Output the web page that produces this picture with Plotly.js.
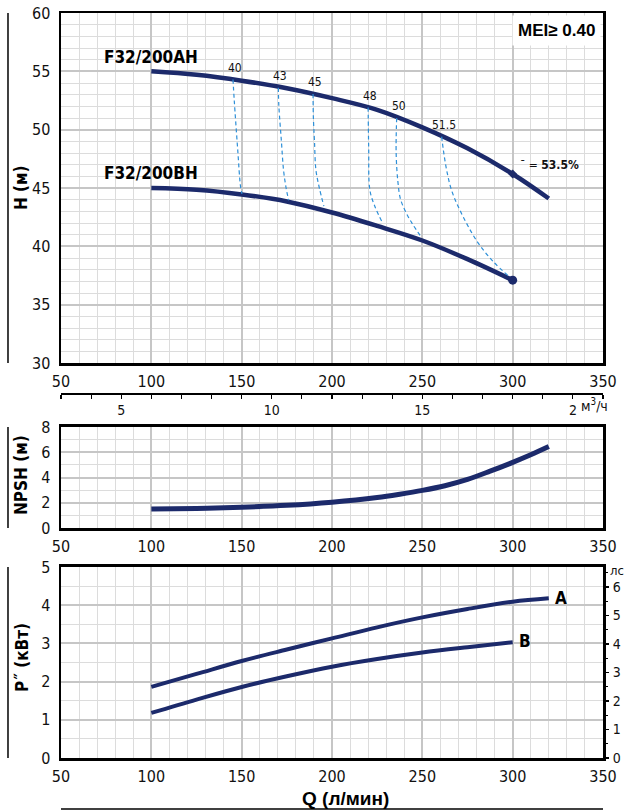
<!DOCTYPE html>
<html>
<head>
<meta charset="utf-8">
<script src="https://cdn.plot.ly/plotly-3.0.1.min.js"></script>
<style>html,body{margin:0;padding:0;background:#fff;}#chart{width:624px;height:811px;}
svg text{font-stretch:condensed;}</style>
</head>
<body>
<div id="chart"></div>
<script>
// ---- data ----
const qA = [100,125,150,175,200,225,250,275,300,320];
const headA = [55.0,54.7,54.2,53.55,52.7,51.7,50.2,48.4,46.2,44.1];
const qB = [100,125,150,175,200,225,250,275,300];
const headB = [45.0,44.85,44.45,43.85,42.9,41.75,40.5,38.9,37.1];

const effLabels = ['40','43','45','48','50','51.5'];
const effQ = [
  [145.2,145.9,147.8,149.4,150.2],
  [170.3,170.6,172.0,173.2,174.6,176.0],
  [189.5,189.7,190.3,191.1,193.0,195.5],
  [220.0,220.3,221.0,223.8,228.0],
  [235.8,235.5,236.5,238.0,241.3,245.0,249.6],
  [260.7,261.6,263.5,266.2,270.8,280.0,289.2,298.5]
];
const effH = [
  [54.3,52.5,48.3,45.1,44.5],
  [53.6,52.0,49.0,46.5,45.0,43.95],
  [53.05,51.0,49.0,46.55,45.0,43.45],
  [51.9,48.5,44.8,43.4,42.0],
  [51.0,48.0,45.5,44.0,42.8,41.8,40.75],
  [49.4,48.3,46.5,44.8,43.1,40.5,38.7,37.35]
];
const bepQ = 300, bepHA = 46.2, bepHB = 37.1;
const bepLabel = 'ˉ = <b>53.5%</b>';

const npshQ = [100,125,150,175,200,225,237.5,250,262.5,275,287.5,300,310,320];
const npsh = [1.5,1.55,1.65,1.8,2.05,2.42,2.68,2.98,3.35,3.85,4.5,5.2,5.8,6.45];

const powA = [1.86,2.2,2.54,2.84,3.13,3.42,3.68,3.9,4.09,4.18];
const powB = [1.18,1.53,1.86,2.14,2.39,2.59,2.76,2.9,3.03];

const m3hRange = [3,21];
const m3hTickVals = [5,10,15,20];
const m3hTickText = ['5','10','15','2'];
const kwPerHp = 0.7457;

// ---- styling ----
const NAVY = '#1c2a6b';
const DASH = '#2e90d8';
const FN = "'Liberation Sans Narrow','DejaVu Sans Condensed','DejaVu Sans',sans-serif";
const FB = "'Liberation Sans','DejaVu Sans',sans-serif";

const traces = [];
traces.push({x:qA, y:headA, xaxis:'x', yaxis:'y', mode:'lines', line:{color:NAVY,width:4.5,shape:'spline'}, hoverinfo:'skip'});
traces.push({x:qB, y:headB, xaxis:'x', yaxis:'y', mode:'lines', line:{color:NAVY,width:4.5,shape:'spline'}, hoverinfo:'skip'});
for (let i=0;i<effQ.length;i++){
  traces.push({x:effQ[i], y:effH[i], xaxis:'x', yaxis:'y', mode:'lines', line:{color:DASH,width:1.2,dash:'4px,3px',shape:'spline'}, hoverinfo:'skip'});
}
traces.push({x:[bepQ], y:[bepHA], xaxis:'x', yaxis:'y', mode:'markers', marker:{color:NAVY,size:7,symbol:'diamond'}, hoverinfo:'skip'});
traces.push({x:[bepQ], y:[bepHB], xaxis:'x', yaxis:'y', mode:'markers', marker:{color:NAVY,size:9}, hoverinfo:'skip'});
traces.push({x:m3hRange, y:[null,null], xaxis:'x4', yaxis:'y', mode:'lines', hoverinfo:'skip'});

traces.push({x:npshQ, y:npsh, xaxis:'x2', yaxis:'y2', mode:'lines', line:{color:NAVY,width:5,shape:'spline'}, hoverinfo:'skip'});

traces.push({x:qA, y:powA, xaxis:'x3', yaxis:'y3', mode:'lines', line:{color:NAVY,width:4,shape:'spline'}, hoverinfo:'skip'});
traces.push({x:qB, y:powB, xaxis:'x3', yaxis:'y3', mode:'lines', line:{color:NAVY,width:4,shape:'spline'}, hoverinfo:'skip'});
traces.push({x:[50,350], y:[null,null], xaxis:'x3', yaxis:'y4', mode:'lines', hoverinfo:'skip'});

function qAxis(anchor){
  return {anchor:anchor, domain:[0,1], range:[50,350], tick0:50, dtick:50,
    showgrid:true, gridcolor:'#c6c6c6', gridwidth:2,
    minor:{dtick:10, showgrid:true, gridcolor:'#dcdcdc', gridwidth:1},
    showline:true, linecolor:'#000', linewidth:2.5, mirror:true, zeroline:false,
    ticks:'', ticklabelstandoff:2, tickfont:{family:FN,size:16,color:'#111'}};
}
function valAxis(anchor, dom, rng, dt, mdt){
  return {anchor:anchor, domain:dom, range:rng, dtick:dt, tick0:0,
    showgrid:true, gridcolor:'#c6c6c6', gridwidth:2,
    minor:{dtick:mdt, showgrid:true, gridcolor:'#dcdcdc', gridwidth:1},
    showline:true, linecolor:'#000', linewidth:2.5, mirror:true, zeroline:false,
    ticks:'', ticklabelstandoff:5, tickfont:{family:FN,size:16,color:'#111'}};
}

const annotations = [];
for (let i=0;i<effLabels.length;i++){
  annotations.push({xref:'x', yref:'y', x:effQ[i][0], y:effH[i][0], text:effLabels[i], showarrow:false,
    xanchor:'center', yanchor:'bottom', yshift:3, xshift:2, font:{family:FN,size:12,color:'#111'}});
}
annotations.push({xref:'x', yref:'y', x:bepQ, y:bepHA, text:bepLabel, showarrow:false, xanchor:'left', yanchor:'middle', xshift:5, yshift:9, font:{family:FN,size:12,color:'#111'}});
annotations.push({xref:'x', yref:'y', x:100, y:56.2, text:'<b>F32/200AH</b>', showarrow:false, xanchor:'center', yanchor:'middle', font:{family:FN,size:17,color:'#000'}});
annotations.push({xref:'x', yref:'y', x:100, y:46.3, text:'<b>F32/200BH</b>', showarrow:false, xanchor:'center', yanchor:'middle', font:{family:FN,size:17,color:'#000'}});
annotations.push({xref:'paper', yref:'paper', x:1, y:1, xanchor:'right', yanchor:'top', xshift:-2, yshift:-2, text:'<b>MEI≥ 0.40</b>', showarrow:false, bgcolor:'#fff', borderpad:5, font:{family:FB,size:17,color:'#000'}});
annotations.push({xref:'paper', yref:'paper', x:0.9557, y:0.4738, xanchor:'left', yanchor:'middle', text:'м<sup>3</sup>/ч', showarrow:false, font:{family:FN,size:14,color:'#111'}});
annotations.push({xref:'x3', yref:'y3', x:320, y:4.18, text:'<b>A</b>', showarrow:false, xanchor:'left', yanchor:'middle', xshift:4, font:{family:FN,size:17,color:'#000'}});
annotations.push({xref:'x3', yref:'y3', x:300, y:3.05, text:'<b>B</b>', showarrow:false, xanchor:'left', yanchor:'middle', xshift:4, font:{family:FN,size:17,color:'#000'}});
annotations.push({xref:'paper', yref:'paper', x:1.0258, y:0.2483, xanchor:'center', yanchor:'middle', yshift:3, text:'лс', showarrow:false, font:{family:FN,size:13,color:'#111'}});
annotations.push({xref:'paper', yref:'paper', x:0.524, y:-0.0537, xanchor:'center', yanchor:'middle', text:'<b>Q (л/мин)</b>', showarrow:false, font:{family:FB,size:19,color:'#000'}});
annotations.push({xref:'paper', yref:'paper', x:-0.0738, y:0.765, xanchor:'center', yanchor:'middle', text:'<b>H (м)</b>', textangle:-90, showarrow:false, font:{family:FN,size:17,color:'#000'}});
annotations.push({xref:'paper', yref:'paper', x:-0.0738, y:0.3799, xanchor:'center', yanchor:'middle', text:'<b>NPSH (м)</b>', textangle:-90, showarrow:false, font:{family:FN,size:17,color:'#000'}});
annotations.push({xref:'paper', yref:'paper', x:-0.0720, y:0.1356, xanchor:'center', yanchor:'middle', text:'<b>P˝ (кВт)</b>', textangle:-90, showarrow:false, font:{family:FN,size:17,color:'#000'}});

const vline = (y0,y1)=>({type:'line', xref:'paper', yref:'paper', x0:-0.0978, x1:-0.0978, y0:y0, y1:y1, line:{color:'#000',width:1.5}});
const shapes = [
  vline(0.5302,1.0), vline(0.3087,0.4443), vline(0,0.2564),
  {type:'line', xref:'paper', yref:'paper', x0:0, x1:1, y0:-0.0685, y1:-0.0685, line:{color:'#000',width:1.5}}
];

const layout = {
  width:624, height:811, margin:{l:61,r:21,t:13,b:53},
  paper_bgcolor:'#fff', plot_bgcolor:'#fff', showlegend:false,
  font:{family:FN, color:'#111'},
  xaxis:qAxis('y'),
  yaxis:valAxis('x',[0.5302,1],[30,60],5,1),
  xaxis2:qAxis('y2'),
  yaxis2:valAxis('x2',[0.3087,0.4443],[0,8],2,1),
  xaxis3:qAxis('y3'),
  yaxis3:valAxis('x3',[0,0.2564],[0,5],1,0.5),
  xaxis4:{overlaying:'x', anchor:'free', position:0.4899, side:'bottom', range:m3hRange,
    tickmode:'array', tickvals:m3hTickVals, ticktext:m3hTickText, ticks:'outside', ticklen:4, tickwidth:1.2, tickcolor:'#000',
    minor:{dtick:1, tick0:3, ticks:'outside', ticklen:4, tickwidth:1.2, tickcolor:'#000', showgrid:false},
    showgrid:false, zeroline:false, showline:true, linecolor:'#000', linewidth:1.5, ticklabelstandoff:0,
    tickfont:{family:FN,size:14,color:'#111'}},
  yaxis4:{overlaying:'y3', side:'right', anchor:'x3', range:[0, 5/kwPerHp], dtick:1, tick0:0,
    ticks:'outside', ticklen:5, tickwidth:1.2, tickcolor:'#000',
    minor:{dtick:0.5, ticks:'outside', ticklen:4, tickcolor:'#000', showgrid:false},
    showgrid:false, zeroline:false, showline:false, ticklabelstandoff:1,
    tickfont:{family:FN,size:14,color:'#111'}},
  annotations:annotations, shapes:shapes
};

Plotly.newPlot('chart', traces, layout, {staticPlot:true, displayModeBar:false});
</script>
</body>
</html>
